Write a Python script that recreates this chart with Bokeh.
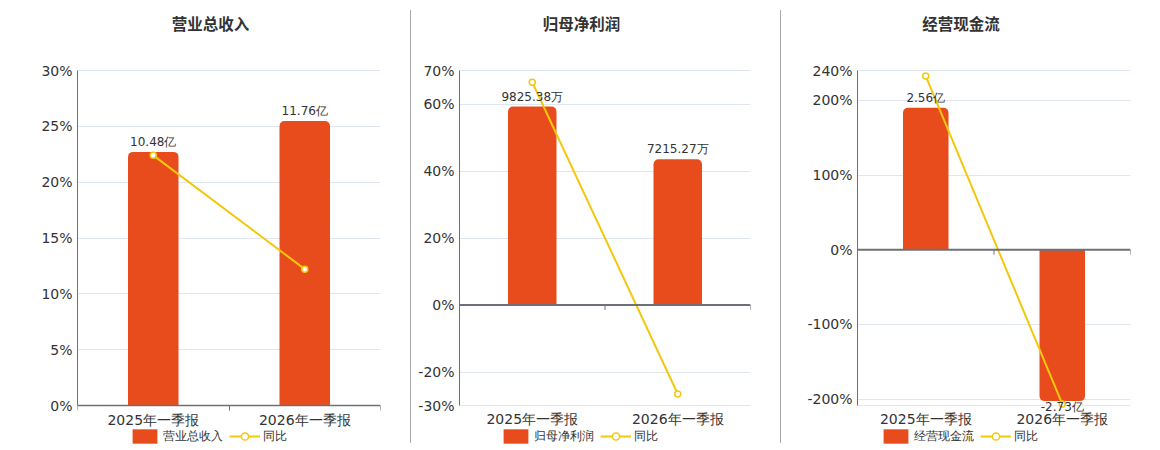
from bokeh.plotting import figure
from bokeh.models import (Range1d, FixedTicker, LabelSet, ColumnDataSource, Legend,
                          LegendItem, Span, Label, Spacer)
from bokeh.core.properties import value
from bokeh.layouts import row
from bokeh.embed import file_html
from bokeh.resources import INLINE

# ---------------- data ----------------
categories = ["2025年一季报", "2026年一季报"]

revenue_name = "营业总收入"
revenue = [10.48, 11.76]
revenue_labels = ["10.48亿", "11.76亿"]
revenue_yoy = [22.4, 12.21]
revenue_ticks = [0, 5, 10, 15, 20, 25, 30]

profit_name = "归母净利润"
profit = [9825.38, 7215.27]
profit_labels = ["9825.38万", "7215.27万"]
profit_yoy = [66.5, -26.56]
profit_ticks = [-30, -20, 0, 20, 40, 60, 70]

cash_name = "经营现金流"
cash = [2.56, -2.73]
cash_labels = ["2.56亿", "-2.73亿"]
cash_yoy = [232.5, -206.6]
cash_ticks = [-200, -100, 0, 100, 200, 240]

yoy_name = "同比"

# ---------------- style / layout ----------------
BAR = "#E84C1D"
LINE = "#F2C80F"
AXIS = "#6E7079"
GRID = "#E0E6F1"
TXT = "#333333"
FONT = "DejaVu Sans"
FIG_H = 446        # total height of each figure (frame covers it all)
PLOT_TOP = 70      # pixel row of the top of the value axis
PLOT_BOT = 405     # pixel row of the bottom of the value axis
TITLE_Y = 22
LEGEND_BOTTOM = 445


def panel(name, values, labels, yoy, ticks, ymin, ymax, bar_scale,
          left, fw, right, center_x, legend_x):
    n = len(categories)
    xs = [i + 0.5 for i in range(n)]
    bounds = [float(i) for i in range(n + 1)]
    per_px = (ymax - ymin) / (PLOT_BOT - PLOT_TOP)
    ystart = ymin - (FIG_H - PLOT_BOT) * per_px
    yend = ymax + PLOT_TOP * per_px

    p = figure(frame_width=fw, frame_height=FIG_H,
               min_border_left=left, min_border_right=right,
               min_border_top=0, min_border_bottom=0,
               x_range=Range1d(0, n), y_range=Range1d(ystart, yend),
               output_backend="svg", toolbar_location=None,
               background_fill_color="white", border_fill_color="white")
    p.outline_line_color = None
    p.extra_y_ranges = {"bar": Range1d(ystart / bar_scale, yend / bar_scale)}

    # y axis (value axis for the yoy line)
    p.yaxis.ticker = FixedTicker(ticks=ticks)
    p.yaxis.bounds = (ymin, ymax)
    p.yaxis.major_label_overrides = {t: f"{t}%" for t in ticks}
    p.yaxis.axis_line_color = AXIS
    p.yaxis.major_tick_line_color = None
    p.yaxis.minor_tick_line_color = None
    p.yaxis.major_tick_out = 0
    p.yaxis.major_label_standoff = 5
    p.yaxis.major_label_text_font = FONT
    p.yaxis.major_label_text_font_size = "14px"
    p.yaxis.major_label_text_color = TXT

    # x axis, fixed at the bottom of the value axis
    p.xaxis.fixed_location = ymin
    p.xaxis.ticker = FixedTicker(ticks=xs, minor_ticks=bounds)
    p.xaxis.major_label_overrides = {x: c for x, c in zip(xs, categories)}
    p.xaxis.major_tick_line_color = None
    p.xaxis.major_tick_out = 0
    p.xaxis.major_label_standoff = 1
    p.xaxis.major_label_text_font = FONT
    p.xaxis.major_label_text_font_size = "14px"
    p.xaxis.major_label_text_color = TXT
    if ymin == 0:
        p.xaxis.axis_line_color = AXIS
        p.xaxis.axis_line_width = 1.5
        p.xaxis.minor_tick_line_color = AXIS
        p.xaxis.minor_tick_out = 5
        p.xaxis.minor_tick_in = 0
    else:
        p.xaxis.axis_line_color = None
        p.xaxis.minor_tick_line_color = None

    # grid
    p.xgrid.grid_line_color = None
    p.ygrid.ticker = FixedTicker(ticks=sorted(set(ticks + [ymin, ymax])))
    p.ygrid.grid_line_color = GRID
    p.ygrid.grid_line_width = 1

    # bars
    pos = [(x, v) for x, v in zip(xs, values) if v >= 0]
    neg = [(x, v) for x, v in zip(xs, values) if v < 0]
    pos_src = ColumnDataSource(dict(x=[a[0] for a in pos], v=[a[1] for a in pos]))
    neg_src = ColumnDataSource(dict(x=[a[0] for a in neg], v=[a[1] for a in neg]))
    bar_r = p.vbar(x="x", top="v", bottom=0, width=1 / 3, source=pos_src,
                   y_range_name="bar", fill_color=BAR, line_color=None,
                   border_radius=(5, 5, 0, 0))
    p.vbar(x="x", top=0, bottom="v", width=1 / 3, source=neg_src,
           y_range_name="bar", fill_color=BAR, line_color=None,
           border_radius=(0, 0, 5, 5))

    # zero axis line with ticks for panels with negatives
    if ymin < 0:
        p.add_layout(Span(location=0, dimension="width", line_color=AXIS, line_width=2))
        tlen = 5 * per_px
        p.segment(x0=bounds[1:], y0=[0] * n, x1=bounds[1:], y1=[-tlen] * n,
                  line_color=AXIS, line_width=1)

    # bar value labels
    lsrc = ColumnDataSource(dict(x=xs, v=values, t=labels,
                                 off=[10 if v >= 0 else -6 for v in values]))
    p.add_layout(LabelSet(x="x", y="v", text="t", y_offset="off", source=lsrc,
                          y_range_name="bar", text_align="center",
                          text_baseline="middle", text_font=value(FONT),
                          text_font_size=value("12px"), text_color=value(TXT)))

    # yoy line
    ysrc = ColumnDataSource(dict(x=xs, y=yoy))
    line_r = p.line("x", "y", source=ysrc, line_color=LINE, line_width=2)
    sc_r = p.scatter("x", "y", source=ysrc, size=6, marker="circle",
                     fill_color="white", line_color=LINE, line_width=1.5)

    # title
    p.add_layout(Label(x=center_x, y=FIG_H - TITLE_Y, x_units="screen", y_units="screen",
                       text=name, text_align="center", text_baseline="middle",
                       text_font="Noto Sans CJK SC", text_font_style="bold",
                       text_font_size="15.5px", text_color=TXT))

    # legend
    legend = Legend(items=[LegendItem(label=name, renderers=[bar_r]),
                           LegendItem(label=yoy_name, renderers=[line_r, sc_r])],
                    location=(legend_x, FIG_H - LEGEND_BOTTOM), orientation="horizontal",
                    padding=0, margin=0, spacing=6, glyph_width=31,
                    glyph_height=18, label_standoff=3, label_height=14,
                    label_text_font=FONT, label_text_font_size="12px",
                    label_text_color=TXT, border_line_color=None,
                    background_fill_alpha=0)
    p.add_layout(legend)
    return p


p1 = panel(revenue_name, revenue, revenue_labels, revenue_yoy, revenue_ticks,
           0, 30, 2.167, 77, 303, 30, 133, 52)
p2 = panel(profit_name, profit, profit_labels, profit_yoy, profit_ticks,
           -30, 70, 0.00603, 48, 291, 30, 122, 40.5)
p3 = panel(cash_name, cash, cash_labels, cash_yoy, cash_ticks,
           -208.7, 240, 74.3, 76, 273, 20, 103.5, 22.5)

sep1 = Spacer(width=1, height=433, styles={"background-color": "#aaaaaa"}, margin=(10, 0, 0, 0))
sep2 = Spacer(width=1, height=433, styles={"background-color": "#aaaaaa"}, margin=(10, 0, 0, 0))

layout = row(p1, sep1, p2, sep2, p3)
open("out.html", "w").write(file_html(layout, INLINE, title="chart"))
